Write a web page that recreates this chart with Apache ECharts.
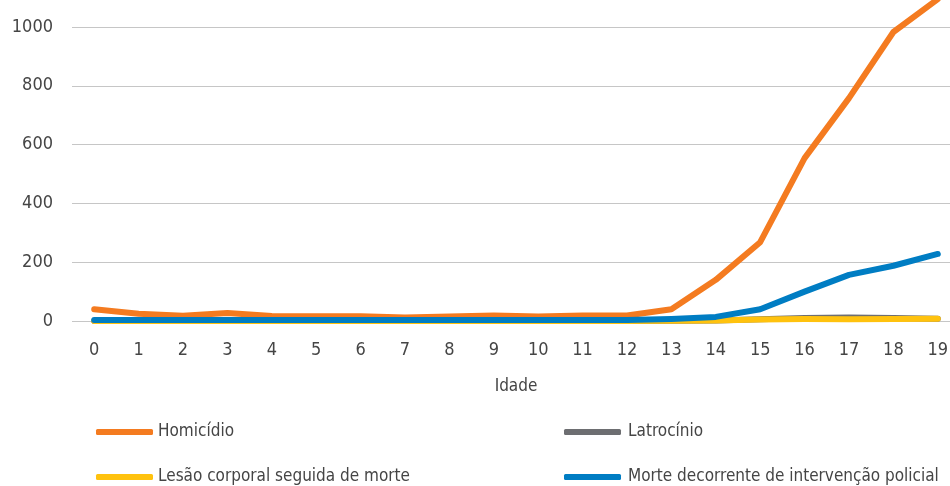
<!DOCTYPE html>
<html>
<head>
<meta charset="utf-8">
<script src="https://cdn.jsdelivr.net/npm/echarts@6/dist/echarts.min.js"></script>
<style>
html,body{margin:0;padding:0;width:950px;height:486px;overflow:hidden;background:#fff;}
#c{position:absolute;left:0;top:-60px;width:1000px;height:560px;}
</style>
</head>
<body>
<div id="c"></div>
<script>
const ages = ['0','1','2','3','4','5','6','7','8','9','10','11','12','13','14','15','16','17','18','19'];
const homicidio = [40,25,18,27,17,16,16,12,15,19,15,19,19,40,140,268,554,758,983,1095];
const latrocinio = [0,0,0,0,0,0,0,0,0,0,0,0,0,1,2,6,10,12,10,8];
const lesao = [0,0,0,0,0,0,0,0,0,0,0,0,0,1,2,5,7,6,7,8];
const morte = [3,3,3,3,3,3,3,3,3,3,3,3,3,7,14,40,100,157,188,228];
const yTicks = [0,200,400,600,800,1000,1200];

const FONT = "'Liberation Sans Narrow','DejaVu Sans Condensed',sans-serif";
const TXT = '#454545';
const chart = echarts.init(document.getElementById('c'), null, {renderer:'canvas'});
function line(name, data, color){
  return {name:name, type:'line', data:data, symbol:'none', smooth:false,
    lineStyle:{color:color, width:6, cap:'round', join:'round'}, itemStyle:{color:color}, animation:false};
}
chart.setOption({
  animation:false,
  textStyle:{fontFamily:FONT},
  grid:{left:72, top:381-6*58.8, width:888, height:6*58.8, containLabel:false},
  xAxis:{type:'category', data:ages, boundaryGap:true,
    axisLine:{show:false}, axisTick:{show:false},
    axisLabel:{color:TXT, fontSize:18, fontFamily:FONT, margin:20},
    name:'Idade', nameLocation:'middle', nameGap:57,
    nameTextStyle:{color:TXT, fontSize:17, fontFamily:FONT}},
  yAxis:{type:'value', min:yTicks[0], max:yTicks[yTicks.length-1], interval:200,
    axisLine:{show:false}, axisTick:{show:false},
    axisLabel:{color:TXT, fontSize:18, fontFamily:FONT, margin:19, formatter:function(v){return String(v);}},
    splitLine:{lineStyle:{color:'#c6c6c6', width:1}}},
  legend:[
    {data:['Homicídio','Lesão corporal seguida de morte'], orient:'vertical', left:91, top:477,
     itemWidth:57, itemHeight:6, itemGap:25, icon:'roundRect',
     textStyle:{color:TXT, fontSize:17, fontFamily:FONT, lineHeight:20, padding:[0,0,0,0]}},
    {data:['Latrocínio','Morte decorrente de intervenção policial'], orient:'vertical', left:559, top:477,
     itemWidth:57, itemHeight:6, itemGap:25, icon:'roundRect',
     textStyle:{color:TXT, fontSize:17, fontFamily:FONT, lineHeight:20, padding:[0,0,0,2]}}
  ],
  series:[
    line('Homicídio', homicidio, '#F47B20'),
    line('Latrocínio', latrocinio, '#6D6E71'),
    line('Lesão corporal seguida de morte', lesao, '#FFC20E'),
    line('Morte decorrente de intervenção policial', morte, '#007DC3')
  ]
});
</script>
</body>
</html>
